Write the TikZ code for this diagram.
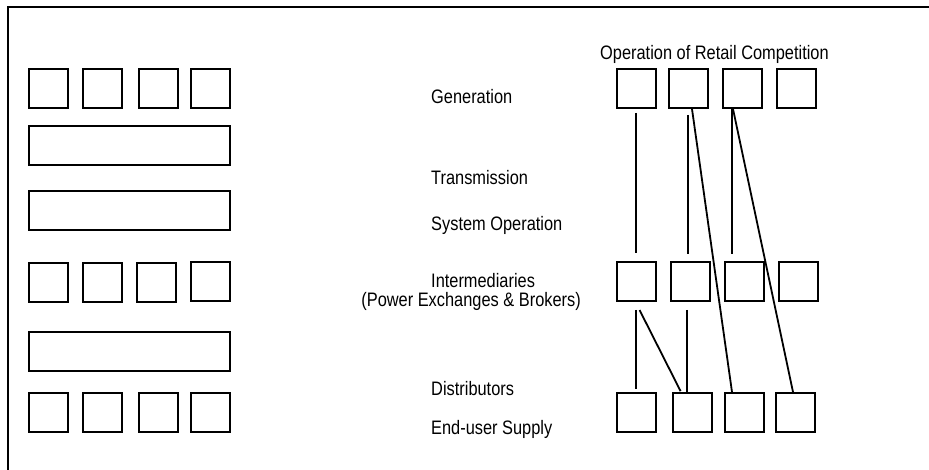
\documentclass[tikz,border=0pt]{standalone}
\usepackage{fontspec}
\setmainfont[FakeStretch=0.84]{Liberation Sans}
\begin{document}
\begin{tikzpicture}[x=1pt,y=-1pt,
  sq/.style={draw,line width=2pt,minimum width=39pt,minimum height=39pt,inner sep=0pt},
  wide/.style={draw,line width=2pt,minimum width=201pt,minimum height=39pt,inner sep=0pt},
  lab/.style={anchor=base west,inner sep=0pt,font=\fontsize{19.5}{23}\selectfont},
  link/.style={line width=1.8pt}]
\useasboundingbox (0,0) rectangle (929,470);
% frame (top and left edges only)
\draw[line width=2pt] (929,7.5) -- (8,7.5) -- (8,470);
% left column
\node[sq] (La1) at (48.5,88.5) {};
\node[sq] (La2) at (102.5,88.5) {};
\node[sq] (La3) at (158.5,88.5) {};
\node[sq] (La4) at (210.5,88.5) {};
\node[wide] (W1) at (129.5,145.5) {};
\node[wide] (W2) at (129.5,210.5) {};
\node[sq] (Lb1) at (48.5,282.5) {};
\node[sq] (Lb2) at (102.5,282.5) {};
\node[sq] (Lb3) at (156.5,282.5) {};
\node[sq] (Lb4) at (210.5,281.5) {};
\node[wide] (W3) at (129.5,351.5) {};
\node[sq] (Lc1) at (48.5,412.5) {};
\node[sq] (Lc2) at (102.5,412.5) {};
\node[sq] (Lc3) at (158.5,412.5) {};
\node[sq] (Lc4) at (210.5,412.5) {};
% labels
\node[lab] (t0) at (600,60) {Operation of Retail Competition};
\node[lab] (t1) at (431,104) {Generation};
\node[lab] (t2) at (431,185) {Transmission};
\node[lab] (t3) at (431,231) {System Operation};
\node[lab] (t4) at (431,288) {Intermediaries};
\node[lab,anchor=base east] (t5) at (581,307) {(Power Exchanges \& Brokers)};
\node[lab] (t6) at (431,395.5) {Distributors};
\node[lab] (t7) at (431,434) {End-user Supply};
% right column
\node[sq] (G1) at (636.5,88.5) {};
\node[sq] (G2) at (688.5,88.5) {};
\node[sq] (G3) at (742.5,88.5) {};
\node[sq] (G4) at (796.5,88.5) {};
\node[sq] (I1) at (636.5,281.5) {};
\node[sq] (I2) at (690.5,281.5) {};
\node[sq] (I3) at (744.5,281.5) {};
\node[sq] (I4) at (798.5,281.5) {};
\node[sq] (D1) at (636.5,412.5) {};
\node[sq] (D2) at (692.5,412.5) {};
\node[sq] (D3) at (744.5,412.5) {};
\node[sq] (D4) at (795.5,412.5) {};
% connectors
\coordinate (a0) at ([xshift=-0.5pt]G1.south);
\coordinate (f0) at ([xshift=-0.5pt]I1.south);
\coordinate (b0) at ([xshift=-0.5pt]G2.south);
\coordinate (d0) at ([xshift=-10.5pt]G3.south);
\coordinate (h0) at ([xshift=-3.5pt]I2.south);
\draw[link,shorten <=4pt,shorten >=8pt] (a0) -- (a0 |- I1.north);
\draw[link,shorten <=6pt,shorten >=7pt] (b0) -- (b0 |- I2.north);
\draw[link] ([xshift=3.5pt]G2.south) -- ([xshift=-12.5pt]D3.north);
\draw[link,shorten >=7pt] (d0) -- (d0 |- I3.north);
\draw[link] ([xshift=-9.5pt]G3.south) -- ([xshift=-2.5pt]D4.north);
\draw[link,shorten <=8pt,shorten >=3pt] (f0) -- (f0 |- D1.north);
\draw[link,shorten <=9pt,shorten >=1pt] ([xshift=-1pt]I1.south) -- ([xshift=-11.5pt]D2.north);
\draw[link,shorten <=8pt] (h0) -- (h0 |- D2.north);
\end{tikzpicture}
\end{document}
